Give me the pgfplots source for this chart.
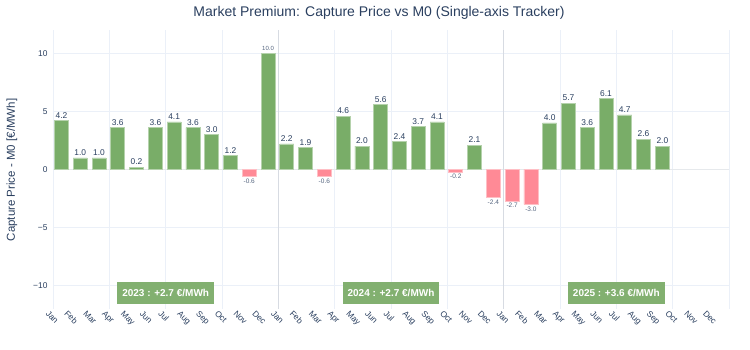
\documentclass[border=0pt]{standalone}
\usepackage{pgfplots}
\pgfplotsset{compat=1.18}
\usepackage{pgfplotstable}
\usepackage{fontspec}
\setmainfont{Liberation Sans}
\definecolor{txt}{HTML}{2A3F5F}
\definecolor{gridc}{HTML}{EBF0F8}
\definecolor{posc}{RGB}{121,173,104}
\definecolor{negc}{RGB}{255,138,150}
\definecolor{annc}{RGB}{130,176,112}
\definecolor{yearc}{RGB}{215,219,226}

\pgfplotstableread{
x y lab
0.45 4.2 4.2
1.45 1.0 1.0
2.45 1.0 1.0
3.45 3.6 3.6
4.45 0.2 0.2
5.45 3.6 3.6
6.45 4.1 4.1
7.45 3.6 3.6
8.45 3.0 3.0
9.45 1.2 1.2
12.45 2.2 2.2
13.45 1.9 1.9
15.45 4.6 4.6
16.45 2.0 2.0
17.45 5.6 5.6
18.45 2.4 2.4
19.45 3.7 3.7
20.45 4.1 4.1
22.45 2.1 2.1
26.45 4.0 4.0
27.45 5.7 5.7
28.45 3.6 3.6
29.45 6.1 6.1
30.45 4.7 4.7
31.45 2.6 2.6
32.45 2.0 2.0
}\posdata

\pgfplotstableread{
x y lab
11.45 10.0 10.0
}\bigdata

\pgfplotstableread{
x y lab
10.45 -0.6 -0.6
14.45 -0.6 -0.6
21.45 -0.2 -0.2
23.45 -2.4 -2.4
24.45 -2.7 -2.7
25.45 -3.0 -3.0
}\negdata

\begin{document}
\begin{tikzpicture}[x=1pt,y=1pt]
\path[use as bounding box] (0,0) rectangle (750,350);
\begin{axis}[
  at={(53pt,41pt)}, anchor=south west,
  scale only axis, width=676pt, height=279pt,
  xmin=0, xmax=36, ymin=-12, ymax=12,
  clip=false,
  axis line style={draw=none},
  major tick length=0pt,
  xtick={0,...,35},
  xticklabels={Jan,Feb,Mar,Apr,May,Jun,Jul,Aug,Sep,Oct,Nov,Dec,Jan,Feb,Mar,Apr,May,Jun,Jul,Aug,Sep,Oct,Nov,Dec,Jan,Feb,Mar,Apr,May,Jun,Jul,Aug,Sep,Oct,Nov,Dec},
  xticklabel style={rotate=-45, anchor=north west, inner sep=1pt, xshift=-3pt, yshift=-2pt, font=\fontsize{8.4}{10}\selectfont, color=txt},
  extra x ticks={0,3,...,36},
  extra x tick labels={},
  extra x tick style={grid=major, major grid style={gridc, line width=0.8pt}},
  ytick={-10,-5,0,5,10},
  yticklabels={−10,−5,0,5,10},
  yticklabel style={font=\fontsize{8.4}{10}\selectfont, color=txt, xshift=-2pt},
  ymajorgrids, major grid style={gridc, line width=0.8pt},
]
\draw[gridc!80!gray!60, line width=1.5pt] (axis cs:0,0) -- (axis cs:36,0);
\draw[yearc, line width=1pt] (axis cs:12,-12) -- (axis cs:12,12);
\draw[yearc, line width=1pt] (axis cs:24,-12) -- (axis cs:24,12);

\addplot[ybar, bar width=14pt, bar shift=0pt, fill=posc, draw=posc!55!white, line width=0.6pt,
  nodes near coords, point meta=explicit symbolic,
  nodes near coords style={font=\fontsize{8.4}{10}\selectfont, color=txt, inner sep=2pt, anchor=south}]
  table[x=x, y=y, meta=lab] {\posdata};
\addplot[ybar, bar width=14pt, bar shift=0pt, fill=posc, draw=posc!55!white, line width=0.6pt,
  nodes near coords, point meta=explicit symbolic,
  nodes near coords style={font=\fontsize{6}{7}\selectfont, color=txt!80, inner sep=2pt, anchor=south}]
  table[x=x, y=y, meta=lab] {\bigdata};
\addplot[ybar, bar width=14pt, bar shift=0pt, fill=negc, draw=negc!55!white, line width=0.6pt,
  nodes near coords, point meta=explicit symbolic,
  nodes near coords style={font=\fontsize{6.5}{7.5}\selectfont, color=txt!80, inner sep=2pt, anchor=north}]
  table[x=x, y=y, meta=lab] {\negdata};

\node[fill=annc, text=white, font=\bfseries\fontsize{10}{12}\selectfont, minimum height=22pt, inner xsep=5pt] at (axis cs:6,-10.6) {2023 : +2.7 €/MWh};
\node[fill=annc, text=white, font=\bfseries\fontsize{10}{12}\selectfont, minimum height=22pt, inner xsep=5pt] at (axis cs:18,-10.6) {2024 : +2.7 €/MWh};
\node[fill=annc, text=white, font=\bfseries\fontsize{10}{12}\selectfont, minimum height=22pt, inner xsep=5pt] at (axis cs:30,-10.6) {2025 : +3.6 €/MWh};
\end{axis}
\node[font=\fontsize{14}{16}\selectfont, color=txt] at (379,337) {Market Premium: Capture Price vs M0 (Single-axis Tracker)};
\node[rotate=90, font=\fontsize{11.5}{13}\selectfont, color=txt] at (12,180) {Capture Price - M0 [€/MWh]};
\end{tikzpicture}
\end{document}
